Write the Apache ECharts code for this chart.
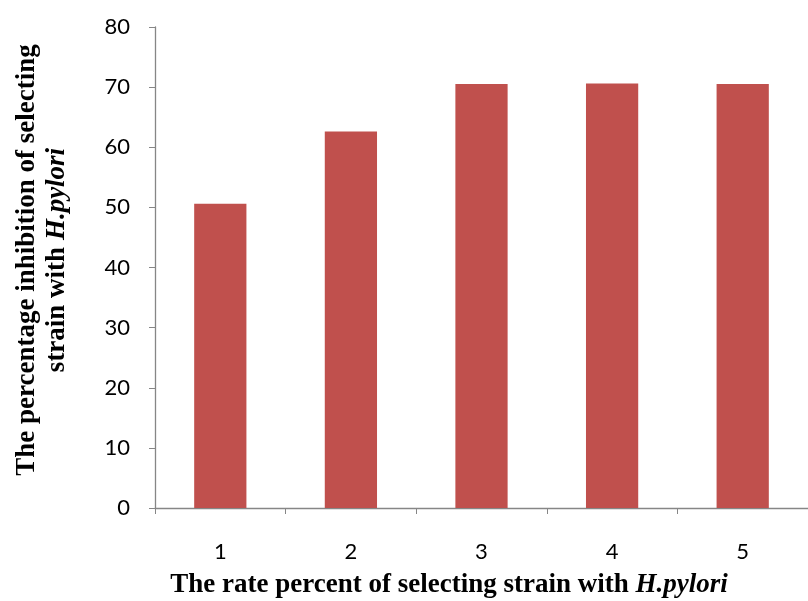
<!DOCTYPE html>
<html><head><meta charset="utf-8">
<script src="https://cdn.jsdelivr.net/npm/echarts@6/dist/echarts.min.js"></script>
<style>html,body{margin:0;padding:0;background:#fff}#c{width:808px;height:601px}</style>
</head><body><div id="c"></div>
<script>
const categories = ['1', '2', '3', '4', '5'];
const values = [50.6, 62.6, 70.5, 70.6, 70.5];
const yTicks = { min: 0, max: 80, interval: 10 };
const xTitle = 'The rate percent of selecting strain with ';
const yTitle1 = 'The percentage inhibition of selecting';
const yTitle2 = 'strain with ';
const italicPart = 'H.pylori';

const chart = echarts.init(document.getElementById('c'));
const axisColor = '#868686';
const serif = '"Liberation Serif","Times New Roman",serif';
const sans = 'Lato, "Open Sans", sans-serif';
chart.setOption({
  animation: false,
  grid: { left: 155, top: 27, width: 660, height: 481, containLabel: false },
  xAxis: {
    type: 'category', data: categories,
    axisLine: { lineStyle: { color: axisColor, width: 1.3 } },
    axisTick: { show: true, length: 6, alignWithLabel: false, lineStyle: { color: axisColor } },
    axisLabel: { color: '#000', fontSize: 22, fontFamily: sans, margin: 33 }
  },
  yAxis: {
    type: 'value', min: yTicks.min, max: yTicks.max, interval: yTicks.interval,
    axisLine: { show: true, lineStyle: { color: axisColor, width: 1.3 } },
    axisTick: { show: true, length: 6, lineStyle: { color: axisColor } },
    splitLine: { show: false },
    axisLabel: { color: '#000', fontSize: 22, fontFamily: sans, margin: 25 }
  },
  series: [{
    type: 'bar', data: values, barWidth: '40%',
    itemStyle: { color: '#C0504D' }
  }],
  graphic: [
    {
      type: 'text', x: 449, y: 585,
      style: {
        text: '{b|' + xTitle + '}{i|' + italicPart + '}',
        align: 'center', verticalAlign: 'middle',
        rich: {
          b: { fontFamily: serif, fontWeight: 'bold', fontSize: 27, fill: '#000' },
          i: { fontFamily: serif, fontWeight: 'bold', fontStyle: 'italic', fontSize: 27, fill: '#000' }
        }
      }
    },
    {
      type: 'text', x: 42, y: 260, rotation: Math.PI / 2,
      style: {
        text: '{b|' + yTitle1 + '}\n{b|' + yTitle2 + '}{i|' + italicPart + '}',
        align: 'center', verticalAlign: 'middle',
        rich: {
          b: { fontFamily: serif, fontWeight: 'bold', fontSize: 27, fill: '#000', lineHeight: 30 },
          i: { fontFamily: serif, fontWeight: 'bold', fontStyle: 'italic', fontSize: 27, fill: '#000', lineHeight: 30 }
        }
      }
    }
  ]
});
</script></body></html>
